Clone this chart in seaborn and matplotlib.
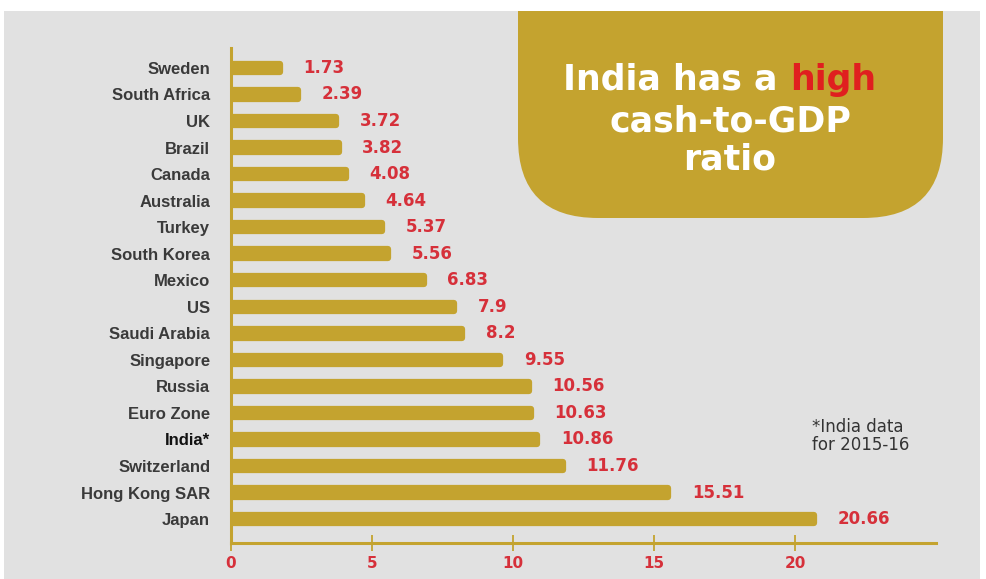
import matplotlib
matplotlib.use("Agg")
import matplotlib.pyplot as plt
import seaborn as sns
import pandas as pd
from matplotlib.patches import FancyBboxPatch, Rectangle

countries = ["Sweden", "South Africa", "UK", "Brazil", "Canada", "Australia", "Turkey",
             "South Korea", "Mexico", "US", "Saudi Arabia", "Singapore", "Russia",
             "Euro Zone", "India*", "Switzerland", "Hong Kong SAR", "Japan"]
values = [1.73, 2.39, 3.72, 3.82, 4.08, 4.64, 5.37, 5.56, 6.83, 7.9, 8.2, 9.55,
          10.56, 10.63, 10.86, 11.76, 15.51, 20.66]
value_labels = ["1.73", "2.39", "3.72", "3.82", "4.08", "4.64", "5.37", "5.56", "6.83",
                "7.9", "8.2", "9.55", "10.56", "10.63", "10.86", "11.76", "15.51", "20.66"]
xticks = [0, 5, 10, 15, 20]

GOLD = "#c4a32f"
RED = "#d6303a"
GRAY_BG = "#e1e1e1"
TXT = "#333333"

sns.set_theme(style="white")
plt.rcParams["font.family"] = ["Liberation Sans", "DejaVu Sans"]

W, H, DPI = 987, 579, 100
fig = plt.figure(figsize=(W / DPI, H / DPI), dpi=DPI, facecolor="white")

# gray panel
fig.patches.append(Rectangle((4 / W, 0), (980 - 4) / W, (H - 11) / H,
                             transform=fig.transFigure, facecolor=GRAY_BG,
                             edgecolor="none", zorder=-3))
# gold title box with rounded bottom corners
box = FancyBboxPatch((5.18, 3.61), 9.43 - 5.18, 3.0,
                     boxstyle="round,pad=0,rounding_size=0.8",
                     transform=fig.dpi_scale_trans, facecolor=GOLD,
                     edgecolor="none", zorder=-2)
fig.patches.append(box)
fig.patches.append(Rectangle((0, (H - 11) / H), 1, 11 / H, transform=fig.transFigure,
                             facecolor="white", edgecolor="none", zorder=-1))

ax = fig.add_axes([231 / W, 36 / H, 705 / W, (543 - 48) / H])
ax.set_zorder(5)
ax.set_facecolor("none")

df = pd.DataFrame({"country": countries, "value": values})
sns.barplot(data=df, x="value", y="country", orient="h", color=GOLD, width=0.32,
            saturation=1, ax=ax, zorder=3)
for p in ax.patches:
    p.set_edgecolor(GOLD)
    p.set_linewidth(4.5)
    p.set_joinstyle("round")

ax.set_xlim(0, 25)
ax.set_ylim(17.9, -0.75)
ax.set_xlabel("")
ax.set_ylabel("")

VFAM = ["DejaVu Sans"]
for i, (v, lab) in enumerate(zip(values, value_labels)):
    ax.annotate(lab, xy=(v, i), xytext=(17, 0), textcoords="offset points",
                ha="left", va="center", color=RED, fontsize=12, fontweight="bold",
                family=VFAM, zorder=4)

for s in ["top", "right"]:
    ax.spines[s].set_visible(False)
for s in ["left", "bottom"]:
    ax.spines[s].set_color(GOLD)
    ax.spines[s].set_linewidth(2.2)

ax.set_xticks(xticks)
ax.set_xticklabels([str(t) for t in xticks])
ax.tick_params(axis="x", direction="inout", length=11, width=1.3, color=GOLD,
               labelcolor=RED, labelsize=11, pad=4, bottom=True)
for t in ax.get_xticklabels():
    t.set_fontweight("bold")
    t.set_family(VFAM)
ax.tick_params(axis="y", length=0, pad=15, labelsize=12, labelcolor=TXT)
for t in ax.get_yticklabels():
    t.set_fontweight("bold")
    if t.get_text() == "India*":
        t.set_color("#111111")
    else:
        t.set_color("#3a3a3a")

# title
tfam = ["DejaVu Sans"]
TS = 25
fig.text(790 / W, 1 - 80 / H, "India has a ", ha="right", va="center", color="white",
         fontsize=TS, fontweight="bold", family=tfam)
fig.text(790 / W, 1 - 80 / H, "high", ha="left", va="center", color="#e01f1f",
         fontsize=TS, fontweight="bold", family=tfam)
fig.text(730 / W, 1 - 121 / H, "cash-to-GDP", ha="center", va="center", color="white",
         fontsize=TS, fontweight="bold", family=tfam)
fig.text(730 / W, 1 - 160 / H, "ratio", ha="center", va="center", color="white",
         fontsize=TS, fontweight="bold", family=tfam)

fig.text(812 / W, 1 - 436 / H, "*India data\nfor 2015-16", ha="left", va="center",
         color=TXT, fontsize=12, family=["DejaVu Sans"], linespacing=1.0)

fig.savefig("out.png", dpi=DPI, facecolor="white")
